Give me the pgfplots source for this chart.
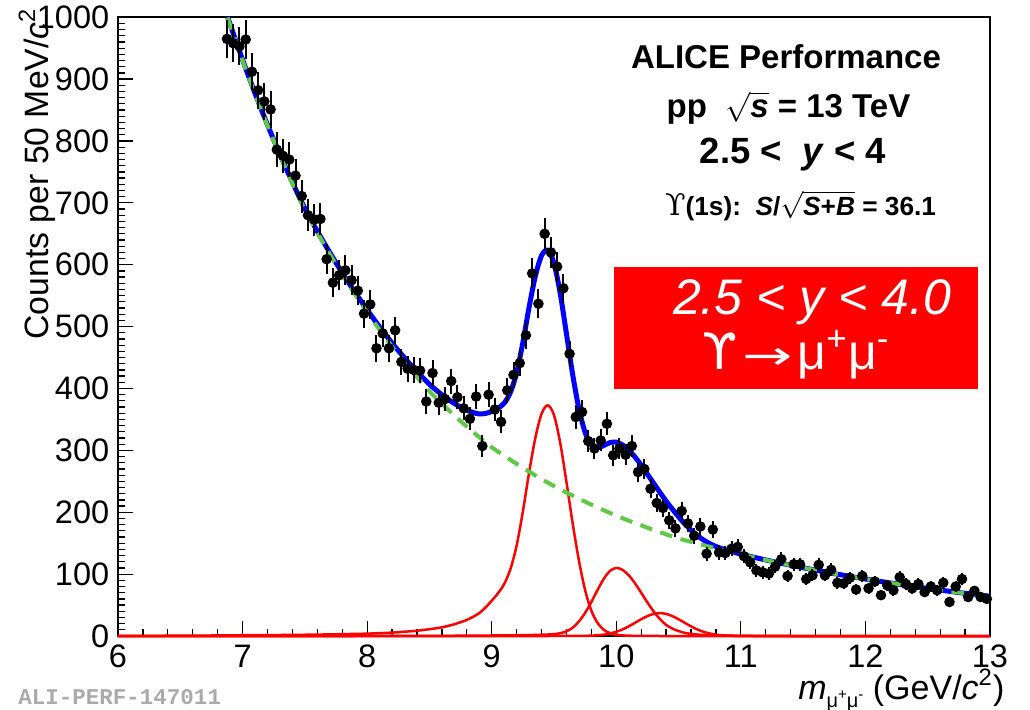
\documentclass[border=0pt]{standalone}
\usepackage{fontspec}
\setmainfont{Liberation Sans}
\newfontfamily\dejavu{DejaVu Sans}
\newfontfamily\dejavuserif{DejaVu Serif}
\newfontfamily\alimono{Liberation Mono}
\usepackage{pgfplots}
\pgfplotsset{compat=1.18}
\usepackage{pgfplotstable}
\definecolor{fitblue}{RGB}{0,0,255}
\definecolor{bkggreen}{RGB}{95,200,70}
\definecolor{sigred}{RGB}{255,0,0}
\definecolor{aligray}{RGB}{170,170,170}

% counts per 50 MeV bin, with sqrt(N) errors
\pgfplotstableread{
m n e
6.875 965 31.1
6.925 958 31.0
6.975 953 30.9
7.025 964 31.0
7.075 912 30.2
7.125 882 29.7
7.175 864 29.4
7.225 851 29.2
7.275 786 28.0
7.325 776 27.9
7.375 770 27.7
7.425 744 27.3
7.475 711 26.7
7.525 680 26.1
7.575 673 25.9
7.625 674 26.0
7.675 609 24.7
7.725 571 23.9
7.775 583 24.1
7.825 591 24.3
7.875 575 24.0
7.925 558 23.6
7.975 521 22.8
8.025 536 23.2
8.075 465 21.6
8.125 489 22.1
8.175 465 21.6
8.225 494 22.2
8.275 443 21.0
8.325 432 20.8
8.375 430 20.7
8.425 429 20.7
8.475 379 19.5
8.525 425 20.6
8.575 377 19.4
8.625 383 19.6
8.675 412 20.3
8.725 386 19.6
8.775 368 19.2
8.825 351 18.7
8.875 387 19.7
8.925 307 17.5
8.975 390 19.7
9.025 366 19.1
9.075 346 18.6
9.125 397 19.9
9.175 422 20.5
9.225 441 21.0
9.275 486 22.0
9.325 586 24.2
9.375 537 23.2
9.425 650 25.5
9.475 620 24.9
9.525 597 24.4
9.575 562 23.7
9.625 456 21.4
9.675 354 18.8
9.725 362 19.0
9.775 315 17.7
9.825 303 17.4
9.875 316 17.8
9.925 343 18.5
9.975 292 17.1
10.025 303 17.4
10.075 293 17.1
10.125 307 17.5
10.175 265 16.3
10.225 270 16.4
10.275 238 15.4
10.325 215 14.7
10.375 207 14.4
10.425 187 13.7
10.475 174 13.2
10.525 202 14.2
10.575 182 13.5
10.625 162 12.7
10.675 177 13.3
10.725 133 11.5
10.775 172 13.1
10.825 135 11.6
10.875 134 11.6
10.925 141 11.9
10.975 144 12.0
11.025 129 11.4
11.075 119 10.9
11.125 106 10.3
11.175 103 10.1
11.225 101 10.0
11.275 112 10.6
11.325 124 11.1
11.375 97 9.8
11.425 116 10.8
11.475 116 10.8
11.525 92 9.6
11.575 98 9.9
11.625 115 10.7
11.675 98 9.9
11.725 107 10.3
11.775 86 9.3
11.825 85 9.2
11.875 94 9.7
11.925 75 8.7
11.975 97 9.8
12.025 77 8.8
12.075 88 9.4
12.125 66 8.1
12.175 82 9.1
12.225 74 8.6
12.275 95 9.7
12.325 84 9.2
12.375 77 8.8
12.425 84 9.2
12.475 71 8.4
12.525 80 8.9
12.575 74 8.6
12.625 86 9.3
12.675 55 7.4
12.725 80 8.9
12.775 92 9.6
12.825 63 7.9
12.875 73 8.5
12.925 63 7.9
12.975 60 7.7
}\counts

% fit: background, Y(1S), Y(2S), Y(3S) and their sum
\pgfplotstableread{
m bkg s1 s2 s3 tot
6.0 nan 0.2 0 0 nan
6.5 nan 0.5 0 0 nan
6.88 999.4 1.0 0 0 1000.4
6.9 987.5 1.0 0 0 988.5
7.0 930.0 1.2 0 0 931.2
7.1 875.8 1.3 0 0 877.1
7.2 824.8 1.4 0 0 826.2
7.3 776.8 1.6 0 0 778.4
7.4 731.5 1.8 0 0 733.3
7.5 688.9 2.0 0 0 690.9
7.6 652.0 2.3 0 0 654.3
7.7 617.1 2.6 0 0 619.7
7.8 584.1 3.0 0 0 587.1
7.9 552.9 3.4 0 0 556.3
8.0 523.3 3.8 0.1 0 527.2
8.1 494.8 4.6 0.1 0 499.5
8.2 467.8 5.5 0.1 0 473.4
8.3 442.4 6.9 0.2 0 449.5
8.4 418.3 8.5 0.2 0 427.0
8.5 395.5 11.0 0.3 0 406.8
8.55 385.4 12.4 0.3 0 398.1
8.6 375.5 14.0 0.3 0 389.8
8.65 365.8 16.3 0.4 0 382.5
8.7 356.4 19.0 0.4 0 375.8
8.75 347.3 22.3 0.5 0 370.1
8.8 338.4 26.0 0.5 0 364.9
8.85 329.7 31.0 0.6 0 361.3
8.9 321.2 37.0 0.6 0 358.8
8.95 313.0 46.0 0.7 0 359.7
9.0 305.0 57.0 0.8 0 362.8
9.05 298.1 69.0 0.9 0 368.0
9.1 291.3 84.0 1.0 0 376.3
9.15 284.7 108.0 1.1 0 393.8
9.2 278.2 146.0 1.2 0 425.4
9.25 271.9 201.0 1.3 0 474.2
9.3 265.7 264.0 1.5 0 531.2
9.35 259.6 320.0 1.7 0 581.3
9.4 253.7 359.0 2.0 0 614.7
9.45 248.0 373.0 2.4 0 623.4
9.5 242.3 357.0 3.0 0.1 602.4
9.55 237.0 312.0 4.5 0.1 553.6
9.6 231.9 249.0 7.5 0.1 488.5
9.65 226.8 182.0 13.5 0.2 422.5
9.7 221.9 122.0 23.5 0.2 367.6
9.75 217.1 74.0 37.5 0.3 328.9
9.8 212.3 41.0 55.0 0.6 308.9
9.85 207.7 21.0 74.5 1.2 304.4
9.9 203.2 10.0 92.5 2.2 307.9
9.95 198.8 4.5 105.3 4.0 312.6
10.0 194.4 2.0 110.0 6.8 313.2
10.05 190.4 1.0 106.9 10.6 308.9
10.1 186.4 0.5 98.2 15.6 300.7
10.15 182.5 0.3 85.2 21.3 289.3
10.2 178.8 0.2 69.9 27.1 276.0
10.25 175.0 0.1 54.2 32.2 261.5
10.3 171.4 0.1 39.7 35.7 246.9
10.35 167.8 0 27.4 37.0 232.2
10.4 164.3 0 18.0 35.7 218.0
10.45 160.9 0 12.0 32.2 205.1
10.5 157.6 0 8.0 27.1 192.7
10.55 154.8 0 5.0 21.3 181.1
10.6 152.1 0 3.5 15.6 171.2
10.65 149.4 0 2.4 10.6 162.4
10.7 146.8 0 1.6 6.8 155.2
10.75 144.2 0 1.1 4.0 149.3
10.8 141.7 0 0.8 2.2 144.7
10.85 139.2 0 0.6 1.2 141.0
10.9 136.7 0 0.5 0.6 137.8
10.95 134.3 0 0.4 0.3 135.0
11.0 132.0 0 0.3 0.2 132.5
11.1 127.3 0 0.2 0 127.5
11.2 122.8 0 0.1 0 122.9
11.3 118.5 0 0.1 0 118.6
11.4 114.3 0 0 0 114.3
11.5 110.3 0 0 0 110.3
11.6 106.4 0 0 0 106.4
11.7 102.6 0 0 0 102.6
11.8 99.0 0 0 0 99.0
11.9 95.5 0 0 0 95.5
12.0 92.1 0 0 0 92.1
12.1 88.8 0 0 0 88.8
12.2 85.7 0 0 0 85.7
12.3 82.7 0 0 0 82.7
12.4 79.7 0 0 0 79.7
12.5 76.9 0 0 0 76.9
12.6 74.2 0 0 0 74.2
12.7 71.6 0 0 0 71.6
12.8 69.0 0 0 0 69.0
12.9 66.6 0 0 0 66.6
13.0 64.2 0 0 0 64.2
}\fit

\begin{document}
\begin{tikzpicture}
\useasboundingbox (-47.2pt,-29.2pt) rectangle (364.8pt,254.4pt);
\begin{axis}[
    at={(0pt,0pt)}, anchor=south west,
    scale only axis,
    width=348.8pt, height=247.5pt,
    xmin=6, xmax=13, ymin=0, ymax=1000,
    xtick={6,...,13}, ytick={0,100,...,1000},
    minor x tick num=4, minor y tick num=9,
    tick align=inside, tick pos=left,
    major tick length=6pt, minor tick length=3pt,
    axis line style={black, line width=0.6pt},
    every tick/.style={black, line width=0.5pt},
    ticklabel style={font=\fontsize{13}{13}\selectfont},
    /pgf/number format/assume math mode=true,
    /pgf/number format/1000 sep={},
    clip=false,
]
\addplot[sigred, line width=1pt, smooth] table[x=m, y=s1] {\fit};
\addplot[sigred, line width=1pt, smooth] table[x=m, y=s2] {\fit};
\addplot[sigred, line width=1pt, smooth] table[x=m, y=s3] {\fit};
\addplot[fitblue, line width=2pt, smooth] table[x=m, y=tot] {\fit};
\addplot[bkggreen, line width=1.6pt, smooth, dash pattern=on 5pt off 3.5pt] table[x=m, y=bkg] {\fit};
\addplot[only marks, black, mark=*, mark size=1.9pt,
    error bars/.cd, y dir=both, y explicit, error mark=none,
    error bar style={line width=0.8pt, solid}]
    table[x=m, y=n, y error=e] {\counts};
\end{axis}

% axis titles
\node[rotate=90, anchor=east, inner sep=1pt, font=\fontsize{13.5}{13.5}\selectfont]
    at (-32.4pt,252.4pt) {Counts per 50 MeV/\textit{c}\textsuperscript{2}};
\node[anchor=base east, inner sep=0pt, font=\fontsize{13.6}{13.6}\selectfont] at (354.8pt,-25.2pt)
    {\textit{m}\raisebox{-0.45ex}{\fontsize{8}{8}\selectfont μ\raisebox{0.7ex}{\fontsize{6}{6}\selectfont +}μ\raisebox{0.7ex}{\fontsize{6}{6}\selectfont -}} (GeV/\textit{c}\textsuperscript{2})};
\node[anchor=base west, inner sep=0pt, text=aligray, font=\alimono\bfseries\fontsize{9}{9}\selectfont]
    at (-40pt,-27.2pt) {ALI-PERF-147011};

% labels top right
\begin{scope}[every node/.style={inner sep=0pt}]
\node[font=\bfseries\fontsize{13.2}{13.2}\selectfont] at (267.2pt,231.6pt) {ALICE Performance};
\node[font=\bfseries\fontsize{13.2}{13.2}\selectfont] at (268.2pt,211.2pt) {pp\ \ $\sqrt{\textit{s}}$ = 13 TeV};
\node[font=\bfseries\fontsize{14.6}{14.6}\selectfont] at (270pt,192.4pt) {2.5 <\ \ \textit{y} < 4};
\node[font=\bfseries\fontsize{10.5}{10.5}\selectfont] at (273pt,172pt)
    {{\dejavuserif\mdseries\fontsize{12}{12}\selectfont ϒ}(1s):\ \ \textit{S}/$\sqrt{\mbox{\textit{S}+\textit{B}}}$ = 36.1};
\end{scope}

% red box
\fill[sigred] (198.4pt,98.8pt) rectangle (344pt,147.6pt);
\node[text=white, font=\itshape\fontsize{20}{20}\selectfont] at (277.6pt,133.6pt) {2.5 < y < 4.0};
\node[text=white, font=\fontsize{20}{20}\selectfont] at (271.2pt,112.4pt)
    {{\dejavu ϒ\hspace{2pt}\scalebox{1.5}[1]{\fontsize{16}{16}\selectfont →}}\hspace{2pt}μ\textsuperscript{+}μ\textsuperscript{-}};
\end{tikzpicture}
\end{document}
